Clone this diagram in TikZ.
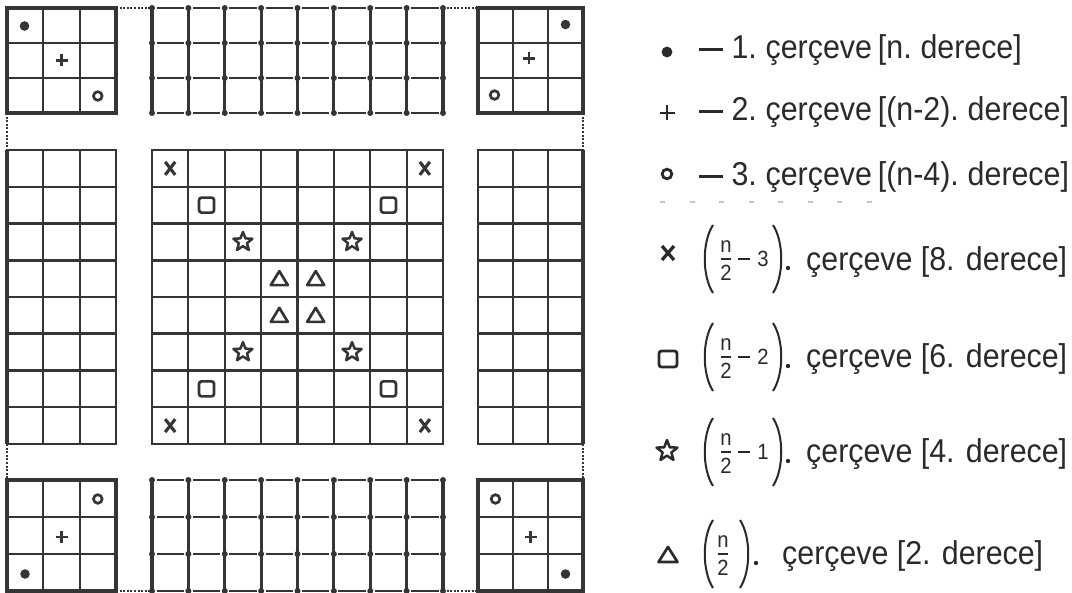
\documentclass[tikz,border=0pt]{standalone}
\usepackage{fontspec}
\setmainfont{Liberation Sans}[FakeStretch=0.92]
\definecolor{ink}{HTML}{353535}
\definecolor{txt}{HTML}{2A2A2A}
\definecolor{faint}{HTML}{C6C6C6}
\tikzset{
  thickl/.style={ink,line width=3.1pt},
  thinl/.style={ink,line width=2.1pt},
  midl/.style={ink,line width=2.7pt},
  hseg/.style={ink,line width=2.6pt},
  dotl/.style={ink,line width=2.6pt,dash pattern=on 2pt off 1.6pt},
  lt/.style={txt,font=\fontsize{33}{36}\selectfont,inner sep=0pt,anchor=base west},
  fr/.style={txt,font=\fontsize{22}{24}\selectfont,inner sep=0pt,anchor=base},
  symdot/.pic={\fill[ink] (0,0) circle[radius=4.8pt];},
  symplus/.pic={\draw[ink,line width=2.7pt] (-6,0)--(6,0) (0,-6)--(0,6);},
  symo/.pic={\draw[ink,line width=2.7pt] (0,0) circle[radius=4.3pt];},
  symx/.pic={\draw[ink,line width=3.1pt] (-5,-6.5)--(5,6.5) (-5,6.5)--(5,-6.5);},
  symsq/.pic={\draw[ink,line width=2.7pt,rounded corners=2.5pt] (-7.5,-7.5) rectangle (7.5,7.5);},
  symstar/.pic={\draw[ink,line width=2.5pt,line join=round] (-90:10)--(-54:4.3)--(-18:10)--(18:4.3)--(54:10)--(90:4.3)--(126:10)--(162:4.3)--(198:10)--(234:4.3)--cycle;},
  symtri/.pic={\draw[ink,line width=2.7pt,line join=round] (-8.5,6.5)--(0,-7.5)--(8.5,6.5)--cycle;},
  bigx/.pic={\draw[txt,line width=3.3pt] (-6,-7)--(6,7) (-6,7)--(6,-7);},
  bigsq/.pic={\draw[txt,line width=2.8pt,rounded corners=2.5pt] (-9,-8) rectangle (9,8);},
  bigstar/.pic={\draw[txt,line width=2.5pt,line join=round] (-90:11)--(-54:4.6)--(-18:11)--(18:4.6)--(54:11)--(90:4.6)--(126:11)--(162:4.6)--(198:11)--(234:4.6)--cycle;},
  bigtri/.pic={\draw[txt,line width=2.7pt,line join=round] (-9.5,7)--(0,-8)--(9.5,7)--cycle;},
}
% corner block: x0 y0 x1 y1 (3x3)
\newcommand\cornerblk[4]{%
  \foreach \i in {1,2}{%
    \draw[thinl] ({#1+\i*(#3-#1)/3},#2) -- ({#1+\i*(#3-#1)/3},#4);
    \draw[thinl] (#1,{#2+\i*(#4-#2)/3}) -- (#3,{#2+\i*(#4-#2)/3});
  }
  \draw[thickl] (#1,#2) rectangle (#3,#4);
}
% edge block (8 cols x 3 rows)
\newcommand\edgeblk[4]{%
  \foreach \i in {0,...,8}{%
    \draw[thickl] ({#1+\i*(#3-#1)/8},#2) -- ({#1+\i*(#3-#1)/8},#4);
  }
  \foreach \j in {0,...,3}{%
    \foreach \i in {0,...,7}{%
      \draw[hseg] ({#1+\i*(#3-#1)/8+4.5},{#2+\j*(#4-#2)/3}) -- ({#1+(\i+1)*(#3-#1)/8-4.5},{#2+\j*(#4-#2)/3});
    }
    \foreach \i in {0,...,8}{%
      \fill[ink] ({#1+\i*(#3-#1)/8},{#2+\j*(#4-#2)/3}) circle[radius=3pt];
    }
  }
}
% side block (3 cols x 8 rows)
\newcommand\sideblk[4]{%
  \foreach \i in {1,2}{%
    \draw[thinl] ({#1+\i*(#3-#1)/3},#2) -- ({#1+\i*(#3-#1)/3},#4);
  }
  \foreach \j in {1,2,4,6,7}{%
    \draw[thinl] (#1,{#2+\j*(#4-#2)/8}) -- (#3,{#2+\j*(#4-#2)/8});
  }
  \foreach \j in {3,5}{%
    \draw[midl] (#1,{#2+\j*(#4-#2)/8}) -- (#3,{#2+\j*(#4-#2)/8});
  }
  \draw[thinl] (#1,#2) rectangle (#3,#4);
}
% legend fraction: center y, tail
\newcommand\parfrac[2]{%
  \draw[txt,line width=2pt] (713,{#1-34}) .. controls (702,{#1-17}) and (702,{#1+17}) .. (713,{#1+34});
  \node[fr] at (726,{#1-6}) {n};
  \draw[txt,line width=1.8pt] (721,#1) -- (731,#1);
  \node[fr] at (726,{#1+22}) {2};
  \draw[txt,line width=1.8pt] (738,#1) -- (750,#1);
  \node[fr] at (763,{#1+8}) {#2};
  \draw[txt,line width=2pt] (773,{#1-34}) .. controls (784,{#1-17}) and (784,{#1+17}) .. (773,{#1+34});
  \fill[txt] (788,{#1+9}) circle[radius=2.2pt];
}
\newcommand\legdash{\rule[0.25em]{0.72em}{0.09em}\hspace{0.26em}}
\begin{document}
\begin{tikzpicture}[x=1pt,y=-1pt]
\useasboundingbox (0,0) rectangle (1072,593);

% ---- grid ----
% dotted outer boundary in the gaps
\draw[dotl] (116,8) -- (152,8);
\draw[dotl] (443,8) -- (478,8);
\draw[dotl] (116,591) -- (152,591);
\draw[dotl] (443,591) -- (478,591);
\draw[dotl] (7,113) -- (7,150);
\draw[dotl] (7,444) -- (7,480);
\draw[dotl] (583,113) -- (583,150);
\draw[dotl] (583,444) -- (583,480);

% corner blocks
\cornerblk{7}{8}{116}{113}
\cornerblk{478}{8}{583}{113}
\cornerblk{7}{480}{116}{591}
\cornerblk{478}{480}{583}{591}

% top and bottom edge blocks
\edgeblk{152}{8}{443}{113}
\edgeblk{152}{480}{443}{591}

% side blocks
\sideblk{7}{150}{116}{444}
\sideblk{478}{150}{583}{444}
\draw[thickl] (7,150) -- (7,444);
\draw[thickl] (583,150) -- (583,444);

% centre block 8x8
\foreach \i in {1,2,4,6,7}{%
  \draw[thinl] ({152+\i*36.375},150) -- ({152+\i*36.375},444);
  \draw[thinl] (152,{150+\i*36.75}) -- (443,{150+\i*36.75});
}
\foreach \i in {3,5}{%
  \draw[midl] ({152+\i*36.375},150) -- ({152+\i*36.375},444);
  \draw[midl] (152,{150+\i*36.75}) -- (443,{150+\i*36.75});
}
\draw[thinl] (152,150) rectangle (443,444);

% corner symbols
\pic at (24.5,26) {symdot};
\pic at (61.5,60.5) {symplus};
\pic at (97.8,96) {symo};
\pic at (565.5,24.5) {symdot};
\pic at (529,58.5) {symplus};
\pic at (494.5,95) {symo};
\pic at (97.8,499) {symo};
\pic at (61.5,537) {symplus};
\pic at (25,574) {symdot};
\pic at (495.5,499) {symo};
\pic at (530.5,537) {symplus};
\pic at (565.5,574) {symdot};

% centre symbols
\foreach \c/\r in {0/0,7/0,0/7,7/7}
  \pic at ({152+(\c+0.5)*36.375},{150+(\r+0.5)*36.75}) {symx};
\foreach \c/\r in {1/1,6/1,1/6,6/6}
  \pic at ({152+(\c+0.5)*36.375},{150+(\r+0.5)*36.75}) {symsq};
\foreach \c/\r in {2/2,5/2,2/5,5/5}
  \pic at ({152+(\c+0.5)*36.375},{150+(\r+0.5)*36.75}) {symstar};
\foreach \c/\r in {3/3,4/3,3/4,4/4}
  \pic at ({152+(\c+0.5)*36.375},{150+(\r+0.5)*36.75}) {symtri};

% ---- legend ----
\fill[txt] (667,52) circle[radius=5.4pt];
\draw[txt,line width=2.8pt] (659.5,113) -- (674.5,113) (667,105.5) -- (667,120.5);
\draw[txt,line width=2.8pt] (667,174) circle[radius=4.8pt];
\node[lt] (l1) at (699,59) {\spaceskip=6pt\relax\legdash 1. çerçeve [n. derece]};
\node[lt] (l2) at (699,121) {\spaceskip=6pt\relax\legdash 2. çerçeve [(n-2). derece]};
\node[lt] (l3) at (699,186) {\spaceskip=6pt\relax\legdash 3. çerçeve [(n-4). derece]};
\foreach \k in {0,...,7}
  \draw[faint,line width=1.8pt] ({660+\k*29.5},202) -- ({665+\k*29.5},202);

\pic at (668,253) {bigx};
\parfrac{259}{3}
\node[lt] (l4) at (806,271) {çerçeve [8. derece]};

\pic at (668,359) {bigsq};
\parfrac{357}{2}
\node[lt] (l5) at (806,368) {çerçeve [6. derece]};

\pic at (667,451) {bigstar};
\parfrac{452}{1}
\node[lt] (l6) at (806,463) {çerçeve [4. derece]};

\pic at (668,555) {bigtri};
\draw[txt,line width=2pt] (713,520) .. controls (702,537) and (702,571) .. (713,588);
\node[fr] at (723,548) {n};
\draw[txt,line width=1.8pt] (718,554) -- (728,554);
\node[fr] at (723,576) {2};
\draw[txt,line width=2pt] (740,520) .. controls (751,537) and (751,571) .. (740,588);
\fill[txt] (756,563) circle[radius=2.2pt];
\node[lt] (l7) at (782,565) {çerçeve [2. derece]};
\end{tikzpicture}
\end{document}
